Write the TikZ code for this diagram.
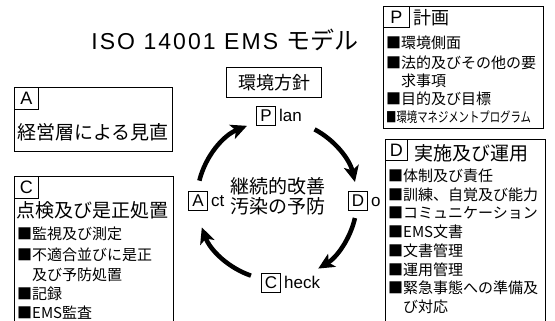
\documentclass[tikz,border=0pt]{standalone}
\usepackage{fontspec}
\setmainfont{Liberation Sans}
\newfontfamily\jp{Noto Sans CJK JP}
\usetikzlibrary{arrows.meta,calc}
\begin{document}
\begin{tikzpicture}[x=1pt,y=1pt,
  frame/.style={draw,line width=0.8pt,inner sep=0,anchor=north west},
  tag/.style={draw,line width=0.8pt,inner sep=0,minimum width=24pt,minimum height=22pt,anchor=north west,font=\fontsize{18}{18}\selectfont},
  ltag/.style={draw,line width=0.8pt,inner sep=0,minimum width=19pt,minimum height=19pt,font=\fontsize{17}{17}\selectfont},
  suffix/.style={anchor=base west,inner sep=0,font=\fontsize{17}{17}\selectfont},
  head/.style={anchor=west,inner sep=0,font=\jp\fontsize{19}{19}\selectfont},
  item/.style={anchor=west,inner sep=0,font=\jp\fontsize{15}{15}\selectfont},
  mid/.style={inner sep=0,font=\jp\fontsize{19}{19}\selectfont},
  cyc/.style={line width=4.5pt,-{Stealth[length=16pt,width=15pt,inset=4pt]}}]

\path[use as bounding box] (0,0) rectangle (555,-321);
\clip (0,0) rectangle (555,-321);

% title
\node[inner sep=0,font=\fontsize{23}{23}\selectfont] (title) at (225,-40)
  {\addfontfeature{LetterSpace=9}ISO 14001 EMS {\jp\fontsize{24}{24}\selectfont モデル}};

% Plan frame
\node[frame,minimum width=160pt,minimum height=122pt] (Pframe) at (383,-6) {};
\node[tag,minimum width=26pt,minimum height=21pt] (Ptag) at (Pframe.north west) {P};
\node[head,font=\jp\fontsize{18}{18}\selectfont] (Phead) at (413,-18) {計画};
\node[item] (p1) at (386,-43) {■環境側面};
\node[item] (p2) at (386,-63) {■法的及びその他の要};
\node[item] (p3) at (401,-81) {求事項};
\node[item] (p4) at (386,-99) {■目的及び目標};
\node[item,font=\jp\fontsize{14}{14}\selectfont] (p5) at (386,-117) {\scalebox{0.74}[1]{■環境マネジメントプログラム}};

% Do frame
\node[frame,minimum width=160pt,minimum height=200pt] (Dframe) at (385,-139) {};
\node[tag,minimum width=22pt,minimum height=21pt] (Dtag) at (Dframe.north west) {D};
\node[head] (Dhead) at (414,-153) {実施及び運用};
\node[item] (d1) at (388,-176) {■体制及び責任};
\node[item] (d2) at (388,-195) {■訓練、自覚及び能力};
\node[item] (d3) at (388,-213) {■コミュニケーション};
\node[item] (d4) at (388,-232) {■EMS文書};
\node[item] (d5) at (388,-251) {■文書管理};
\node[item] (d6) at (388,-270) {■運用管理};
\node[item] (d7) at (388,-288) {■緊急事態への準備及};
\node[item] (d8) at (403,-307) {び対応};

% Act frame
\node[frame,minimum width=158pt,minimum height=64pt] (Aframe) at (14,-87) {};
\node[tag] (Atag) at (Aframe.north west) {A};
\node[head] (Ahead) at (17,-132) {経営層による見直};

% Check frame
\node[frame,minimum width=159pt,minimum height=170pt] (Cframe) at (14,-176) {};
\node[tag] (Ctag) at (Cframe.north west) {C};
\node[head] (Chead) at (16,-210) {点検及び是正処置};
\node[item] (c1) at (17,-234) {■監視及び測定};
\node[item] (c2) at (17,-255) {■不適合並びに是正};
\node[item] (c3) at (32,-275) {及び予防処置};
\node[item] (c4) at (17,-294) {■記録};
\node[item] (c5) at (17,-313) {■EMS監査};

% policy
\node[draw,line width=0.8pt,minimum width=95pt,minimum height=30pt,inner sep=0,font=\jp\fontsize{18}{18}\selectfont] (policy) at (274,-82.5) {環境方針};

% cycle
\coordinate (O) at (277,-200);
\node[ltag] (P) at (266,-116) {P};
\node[suffix] (lan) at ([xshift=3pt]P.base east) {lan};
\node[ltag] (D) at (358,-201) {D};
\node[suffix] (o) at ([xshift=3pt]D.base east) {o};
\node[ltag] (C) at (271,-283) {C};
\node[suffix] (heck) at ([xshift=3pt]C.base east) {heck};
\node[ltag] (A) at (198,-201) {A};
\node[suffix] (ct) at ([xshift=3pt]A.base east) {ct};

\node[mid] (k1) at (278,-186) {継続的改善};
\node[mid] (k2) at (278,-206) {汚染の予防};

\coordinate (ap) at ($(O)+(166:80)$);
\coordinate (pd) at ($(O)+(62:80)$);
\coordinate (dc) at ($(O)+(-13:80)$);
\coordinate (ca) at ($(O)+(-109:80)$);
\draw[cyc] (ap) arc[start angle=166,end angle=112,radius=80];
\draw[cyc] (pd) arc[start angle=62,end angle=13,radius=80];
\draw[cyc] (dc) arc[start angle=-13,end angle=-59,radius=80];
\draw[cyc] (ca) arc[start angle=-109,end angle=-160,radius=80];
\end{tikzpicture}
\end{document}
